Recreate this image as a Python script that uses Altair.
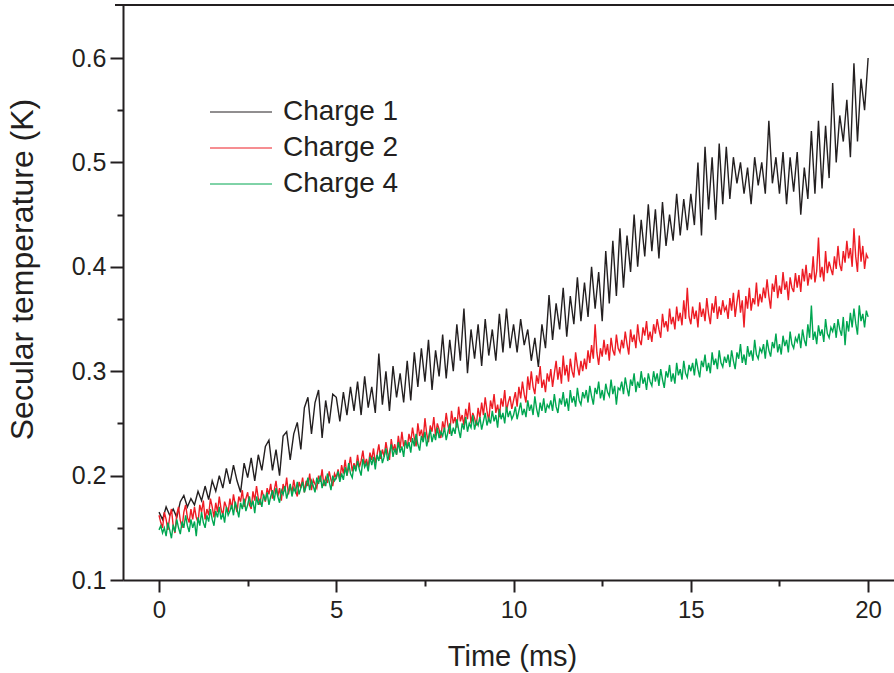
import altair as alt
import pandas as pd

# Charge 1 sampled every 0.1 ms (0 .. 20 ms)
time_coarse = [round(i * 0.1, 2) for i in range(201)]
# Charge 2 / Charge 4 sampled every 0.05 ms (0 .. 20 ms)
time_fine = [round(i * 0.05, 2) for i in range(401)]

charge1 = [
    0.165, 0.158, 0.170, 0.162, 0.168, 0.160, 0.175, 0.181, 0.170, 0.178,
    0.172, 0.185, 0.176, 0.190, 0.177, 0.195, 0.185, 0.200, 0.188, 0.207,
    0.192, 0.210, 0.195, 0.184, 0.212, 0.198, 0.217, 0.195, 0.220, 0.205,
    0.228, 0.234, 0.205, 0.225, 0.200, 0.238, 0.242, 0.215, 0.240, 0.251,
    0.225, 0.265, 0.275, 0.240, 0.270, 0.282, 0.236, 0.272, 0.250, 0.278,
    0.275, 0.252, 0.280, 0.258, 0.285, 0.262, 0.290, 0.258, 0.295, 0.265,
    0.285, 0.260, 0.317, 0.268, 0.300, 0.262, 0.305, 0.275, 0.298, 0.270,
    0.310, 0.272, 0.318, 0.285, 0.322, 0.290, 0.330, 0.282, 0.320, 0.295,
    0.335, 0.293, 0.330, 0.300, 0.345, 0.310, 0.360, 0.298, 0.340, 0.312,
    0.345, 0.305, 0.350, 0.315, 0.340, 0.310, 0.355, 0.318, 0.360, 0.322,
    0.345, 0.318, 0.350, 0.325, 0.340, 0.310, 0.332, 0.304, 0.345, 0.322,
    0.373, 0.330, 0.365, 0.340, 0.380, 0.333, 0.372, 0.345, 0.390, 0.348,
    0.385, 0.352, 0.400, 0.360, 0.395, 0.348, 0.415, 0.365, 0.425, 0.372,
    0.437, 0.380, 0.430, 0.395, 0.450, 0.400, 0.445, 0.410, 0.460, 0.415,
    0.455, 0.408, 0.462, 0.420, 0.450, 0.425, 0.470, 0.430, 0.465, 0.435,
    0.470, 0.440, 0.500, 0.430, 0.515, 0.455, 0.505, 0.445, 0.518, 0.460,
    0.515, 0.465, 0.505, 0.480, 0.500, 0.470, 0.495, 0.460, 0.505, 0.478,
    0.500, 0.470, 0.540, 0.480, 0.505, 0.470, 0.510, 0.460, 0.505, 0.472,
    0.510, 0.450, 0.495, 0.465, 0.530, 0.470, 0.540, 0.475, 0.535, 0.485,
    0.576, 0.500, 0.545, 0.520, 0.560, 0.505, 0.595, 0.520, 0.580, 0.550,
    0.600,
]

charge2 = [
    0.162, 0.155, 0.150, 0.165, 0.158, 0.148, 0.160, 0.168, 0.152, 0.145, 0.163, 0.170, 0.157, 0.150, 0.165, 0.172, 0.160, 0.155, 0.168, 0.158,
    0.170, 0.160, 0.155, 0.172, 0.165, 0.176, 0.158, 0.168, 0.162, 0.178, 0.170, 0.160, 0.174, 0.165, 0.180, 0.168, 0.162, 0.175, 0.170, 0.165,
    0.178, 0.168, 0.182, 0.172, 0.165, 0.180, 0.175, 0.186, 0.170, 0.178, 0.184, 0.172, 0.168, 0.185, 0.176, 0.190, 0.178, 0.172, 0.186, 0.180,
    0.175, 0.188, 0.182, 0.192, 0.178, 0.186, 0.195, 0.180, 0.188, 0.176, 0.192, 0.185, 0.198, 0.182, 0.190, 0.184, 0.196, 0.186, 0.180, 0.194,
    0.188, 0.198, 0.184, 0.195, 0.190, 0.202, 0.186, 0.196, 0.192, 0.188, 0.200, 0.194, 0.206, 0.190, 0.198, 0.193, 0.204, 0.196, 0.190, 0.202,
    0.198, 0.206, 0.196, 0.210, 0.202, 0.215, 0.200, 0.208, 0.218, 0.204, 0.212, 0.206, 0.220, 0.208, 0.214, 0.224, 0.210, 0.216, 0.208, 0.222,
    0.215, 0.226, 0.212, 0.220, 0.230, 0.216, 0.225, 0.218, 0.232, 0.222, 0.215, 0.235, 0.224, 0.230, 0.220, 0.238, 0.226, 0.242, 0.228, 0.234,
    0.226, 0.240, 0.232, 0.246, 0.236, 0.228, 0.250, 0.238, 0.244, 0.234, 0.255, 0.240, 0.232, 0.248, 0.242, 0.256, 0.238, 0.250, 0.244, 0.236,
    0.252, 0.244, 0.260, 0.248, 0.240, 0.262, 0.250, 0.256, 0.246, 0.266, 0.252, 0.258, 0.248, 0.264, 0.254, 0.270, 0.250, 0.260, 0.255, 0.248,
    0.265, 0.255, 0.270, 0.258, 0.275, 0.262, 0.252, 0.272, 0.264, 0.278, 0.260, 0.268, 0.256, 0.274, 0.266, 0.282, 0.262, 0.270, 0.276, 0.264,
    0.272, 0.280, 0.266, 0.285, 0.274, 0.290, 0.278, 0.270, 0.295, 0.282, 0.300, 0.285, 0.278, 0.296, 0.288, 0.305, 0.284, 0.292, 0.280, 0.298,
    0.290, 0.302, 0.285, 0.298, 0.310, 0.292, 0.304, 0.288, 0.315, 0.296, 0.306, 0.290, 0.312, 0.300, 0.294, 0.318, 0.305, 0.296, 0.310, 0.300,
    0.312, 0.302, 0.320, 0.308, 0.325, 0.312, 0.345, 0.318, 0.306, 0.322, 0.314, 0.330, 0.316, 0.326, 0.310, 0.332, 0.320, 0.315, 0.335, 0.322,
    0.318, 0.330, 0.322, 0.338, 0.326, 0.316, 0.340, 0.328, 0.335, 0.322, 0.345, 0.330, 0.325, 0.342, 0.334, 0.348, 0.330, 0.338, 0.328, 0.345,
    0.336, 0.350, 0.340, 0.332, 0.355, 0.342, 0.348, 0.338, 0.360, 0.345, 0.352, 0.340, 0.362, 0.348, 0.356, 0.344, 0.368, 0.350, 0.380, 0.352,
    0.345, 0.362, 0.350, 0.358, 0.342, 0.366, 0.352, 0.360, 0.348, 0.370, 0.355, 0.345, 0.365, 0.356, 0.372, 0.350, 0.362, 0.354, 0.368, 0.358,
    0.362, 0.350, 0.370, 0.358, 0.375, 0.352, 0.366, 0.378, 0.356, 0.368, 0.342, 0.372, 0.360, 0.380, 0.358, 0.370, 0.364, 0.385, 0.362, 0.374,
    0.366, 0.380, 0.370, 0.388, 0.372, 0.360, 0.384, 0.376, 0.392, 0.370, 0.382, 0.374, 0.395, 0.378, 0.386, 0.368, 0.390, 0.380, 0.376, 0.394,
    0.380, 0.392, 0.376, 0.398, 0.386, 0.402, 0.382, 0.394, 0.388, 0.410, 0.385, 0.396, 0.428, 0.390, 0.400, 0.386, 0.415, 0.394, 0.405, 0.398,
    0.392, 0.410, 0.398, 0.420, 0.402, 0.396, 0.415, 0.404, 0.425, 0.408, 0.418, 0.400, 0.437, 0.410, 0.395, 0.430, 0.405, 0.420, 0.398, 0.412,
    0.408,
]

charge4 = [
    0.148, 0.152, 0.145, 0.150, 0.142, 0.155, 0.148, 0.140, 0.153, 0.146, 0.158, 0.150, 0.144, 0.156, 0.150, 0.162, 0.152, 0.146, 0.158, 0.150,
    0.156, 0.142, 0.160, 0.152, 0.165, 0.155, 0.150, 0.162, 0.156, 0.168, 0.158, 0.152, 0.166, 0.160, 0.170, 0.158, 0.164, 0.155, 0.170, 0.162,
    0.166, 0.172, 0.162, 0.175, 0.168, 0.160, 0.174, 0.168, 0.178, 0.166, 0.172, 0.180, 0.170, 0.176, 0.164, 0.180, 0.172, 0.178, 0.170, 0.182,
    0.176, 0.184, 0.172, 0.180, 0.186, 0.176, 0.188, 0.180, 0.174, 0.186, 0.182, 0.190, 0.178, 0.185, 0.192, 0.180, 0.188, 0.184, 0.194, 0.182,
    0.188, 0.194, 0.184, 0.190, 0.198, 0.186, 0.195, 0.190, 0.184, 0.198, 0.192, 0.200, 0.188, 0.196, 0.190, 0.202, 0.194, 0.186, 0.200, 0.195,
    0.198, 0.204, 0.194, 0.202, 0.196, 0.208, 0.200, 0.212, 0.202, 0.198, 0.210, 0.204, 0.214, 0.206, 0.200, 0.216, 0.208, 0.212, 0.204, 0.218,
    0.210, 0.218, 0.206, 0.220, 0.214, 0.224, 0.212, 0.218, 0.226, 0.214, 0.222, 0.230, 0.218, 0.226, 0.220, 0.232, 0.222, 0.228, 0.218, 0.234,
    0.226, 0.232, 0.222, 0.236, 0.228, 0.240, 0.230, 0.224, 0.238, 0.232, 0.242, 0.228, 0.236, 0.244, 0.232, 0.240, 0.234, 0.246, 0.236, 0.242,
    0.238, 0.246, 0.234, 0.242, 0.250, 0.238, 0.246, 0.240, 0.254, 0.244, 0.236, 0.250, 0.244, 0.256, 0.242, 0.250, 0.246, 0.258, 0.244, 0.252,
    0.248, 0.256, 0.244, 0.252, 0.260, 0.248, 0.255, 0.250, 0.262, 0.252, 0.258, 0.246, 0.264, 0.254, 0.260, 0.250, 0.266, 0.256, 0.262, 0.254,
    0.258, 0.266, 0.254, 0.262, 0.270, 0.258, 0.264, 0.256, 0.272, 0.262, 0.268, 0.258, 0.276, 0.264, 0.256, 0.270, 0.262, 0.274, 0.260, 0.268,
    0.265, 0.272, 0.262, 0.278, 0.266, 0.260, 0.274, 0.268, 0.280, 0.266, 0.274, 0.262, 0.282, 0.270, 0.276, 0.266, 0.284, 0.272, 0.268, 0.280,
    0.274, 0.282, 0.270, 0.286, 0.276, 0.268, 0.284, 0.278, 0.290, 0.274, 0.282, 0.272, 0.288, 0.280, 0.276, 0.292, 0.278, 0.286, 0.268, 0.284,
    0.282, 0.290, 0.278, 0.294, 0.284, 0.276, 0.292, 0.286, 0.298, 0.280, 0.290, 0.284, 0.300, 0.288, 0.294, 0.282, 0.298, 0.290, 0.286, 0.300,
    0.290, 0.298, 0.286, 0.302, 0.292, 0.284, 0.300, 0.294, 0.306, 0.290, 0.298, 0.288, 0.308, 0.296, 0.302, 0.292, 0.310, 0.298, 0.294, 0.306,
    0.300, 0.308, 0.296, 0.312, 0.302, 0.294, 0.310, 0.304, 0.316, 0.300, 0.308, 0.298, 0.318, 0.306, 0.312, 0.302, 0.320, 0.308, 0.304, 0.314,
    0.308, 0.316, 0.304, 0.320, 0.310, 0.302, 0.318, 0.312, 0.326, 0.308, 0.316, 0.306, 0.324, 0.314, 0.320, 0.310, 0.330, 0.316, 0.312, 0.322,
    0.318, 0.326, 0.312, 0.330, 0.320, 0.314, 0.328, 0.322, 0.336, 0.318, 0.326, 0.316, 0.334, 0.324, 0.330, 0.318, 0.338, 0.326, 0.322, 0.332,
    0.328, 0.336, 0.322, 0.340, 0.330, 0.324, 0.345, 0.332, 0.363, 0.330, 0.338, 0.326, 0.344, 0.334, 0.340, 0.328, 0.350, 0.336, 0.332, 0.342,
    0.338, 0.346, 0.332, 0.350, 0.340, 0.334, 0.352, 0.325, 0.348, 0.338, 0.356, 0.342, 0.360, 0.346, 0.335, 0.363, 0.348, 0.355, 0.342, 0.358,
    0.352,
]

series_names = ["Charge 1", "Charge 2", "Charge 4"]
series_colors = ["#231f20", "#ed1c24", "#00a651"]

x_ticks = [0, 2.5, 5, 7.5, 10, 12.5, 15, 17.5, 20]
y_ticks = [0.1, 0.15, 0.2, 0.25, 0.3, 0.35, 0.4, 0.45, 0.5, 0.55, 0.6]

rows = []
for name, times, vals in zip(series_names,
                             [time_coarse, time_fine, time_fine],
                             [charge1, charge2, charge4]):
    for t, v in zip(times, vals):
        rows.append({"time": t, "temp": v, "series": name})
df = pd.DataFrame(rows)
legend_df = pd.DataFrame({"series": series_names})

FONT = "Liberation Sans"
INK = "#231f20"
W, H = 771, 575

x_scale = alt.Scale(domain=[-1.016, 20.73], nice=False, zero=False)
y_scale = alt.Scale(domain=[0.1, 0.6508], nice=False, zero=False)
color_scale = alt.Scale(domain=series_names, range=series_colors)
legend_y_scale = alt.Scale(type="point", domain=series_names, range=[89, 197], padding=0.5)

x_axis = alt.Axis(
    values=x_ticks,
    labelExpr="datum.value % 5 === 0 ? datum.label : ''",
    tickSize={"condition": {"test": "datum.value % 5 === 0", "value": 12}, "value": 6},
    title="Time (ms)",
    titleFontSize=29,
    labelFontSize=24,
    grid=False,
    domainWidth=2,
    tickWidth=2,
    labelPadding=6,
    titleX=389,
    titleY=76,
    titleBaseline="middle",
)

y_axis = alt.Axis(
    values=y_ticks,
    labelExpr="abs(round(datum.value * 10) - datum.value * 10) < 0.01 ? format(datum.value, '.1f') : ''",
    tickSize={"condition": {"test": "abs(round(datum.value * 10) - datum.value * 10) < 0.01", "value": 13},
              "value": 6},
    title="Secular temperature (K)",
    titleFontSize=32,
    labelFontSize=25,
    grid=False,
    domainWidth=2,
    tickWidth=2,
    labelPadding=4,
    titleX=-101,
    titleY=264,
    titleBaseline="middle",
    titleAngle=-90,
)

lines = alt.Chart(df).mark_line(strokeWidth=1.4, interpolate="linear").encode(
    x=alt.X("time:Q", scale=x_scale, axis=x_axis),
    y=alt.Y("temp:Q", scale=y_scale, axis=y_axis),
    color=alt.Color("series:N", scale=color_scale, legend=None),
)

top_frame = alt.Chart(legend_df).mark_rule(color=INK, strokeWidth=2).encode(
    x=alt.value(-8), x2=alt.value(W), y=alt.value(0)
)

legend_lines = alt.Chart(legend_df).mark_rule(strokeWidth=1).encode(
    x=alt.value(87),
    x2=alt.value(149),
    y=alt.Y("series:N", scale=legend_y_scale, axis=None),
    color=alt.Color("series:N", scale=color_scale, legend=None),
)

legend_text = alt.Chart(legend_df).mark_text(
    align="left", baseline="middle", font=FONT, fontSize=28, color=INK
).encode(
    x=alt.value(160),
    y=alt.Y("series:N", scale=legend_y_scale, axis=None),
    text="series:N",
)

chart = alt.layer(lines, top_frame, legend_lines, legend_text).resolve_scale(
    y="independent"
).properties(
    width=W,
    height=H,
    padding={"left": 123, "top": 5, "right": 0, "bottom": 93},
    autosize="none",
    background="white",
).configure_view(stroke=None).configure_axis(
    domainColor=INK,
    tickColor=INK,
    labelColor=INK,
    titleColor=INK,
    labelFont=FONT,
    titleFont=FONT,
    titleFontWeight="normal",
)

chart.save("out.html", embed_options={"renderer": "svg", "actions": False})
